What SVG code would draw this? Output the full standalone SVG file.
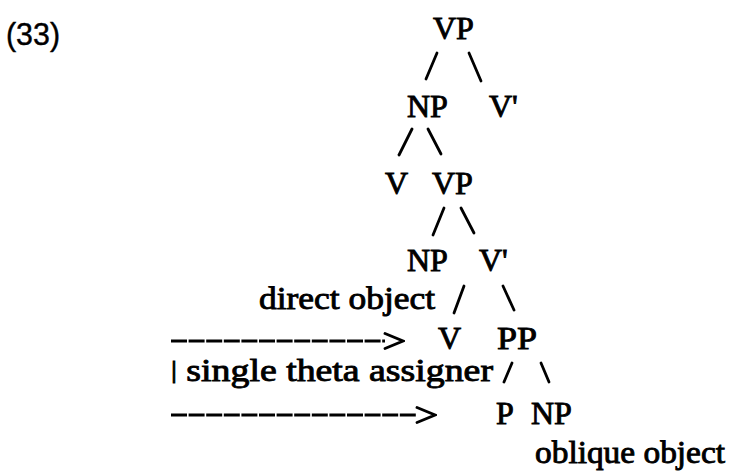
<svg xmlns="http://www.w3.org/2000/svg" width="740" height="471" viewBox="0 0 740 471">
  <style>
    .t { font-family: "Liberation Serif", "Times New Roman", serif; font-size: 32px; fill: #000; stroke: #000; stroke-width: 0.9px; }
    .num { font-family: "Liberation Sans", Arial, sans-serif; font-size: 31px; fill: #000; stroke: #000; stroke-width: 0.4px; }
    .br { stroke: #000; stroke-width: 2.8; stroke-linecap: round; fill: none; }
    .arr { stroke: #000; stroke-width: 3.2; stroke-dasharray: 16 1.6; fill: none; }
  </style>
  <defs>
    <marker id="chev" viewBox="0 0 22 18" refX="2" refY="9" markerWidth="22" markerHeight="18" markerUnits="userSpaceOnUse" orient="auto">
      <path d="M2,1.5 L20,9 L2,16.5" fill="none" stroke="#000" stroke-width="2.8" stroke-linecap="round" stroke-linejoin="miter"/>
    </marker>
  </defs>
  <rect width="740" height="471" fill="#fff"/>

  <g id="label-33"><text class="num" x="6" y="45" textLength="54" lengthAdjust="spacingAndGlyphs">(33)</text></g>

  <g id="node-VP-top"><text class="t" x="433" y="39">VP</text></g>
  <g id="node-NP-spec1"><text class="t" x="407" y="117">NP</text></g>
  <g id="node-Vbar-1"><text class="t" x="489" y="117">V'</text></g>
  <g id="node-V-1"><text class="t" x="385" y="194">V</text></g>
  <g id="node-VP-2"><text class="t" x="432" y="194">VP</text></g>
  <g id="node-NP-2"><text class="t" x="407" y="271">NP</text></g>
  <g id="node-Vbar-2"><text class="t" x="479" y="271">V'</text></g>
  <g id="node-V-2"><text class="t" x="438" y="349">V</text></g>
  <g id="node-PP"><text class="t" x="497" y="349" textLength="40" lengthAdjust="spacingAndGlyphs">PP</text></g>
  <g id="node-P"><text class="t" x="496" y="424">P</text></g>
  <g id="node-NP-3"><text class="t" x="531" y="424">NP</text></g>

  <g id="label-direct-object"><text class="t" x="259" y="309" textLength="176" lengthAdjust="spacingAndGlyphs">direct object</text></g>
  <g id="label-single-theta"><text class="t" x="171" y="381" textLength="322" lengthAdjust="spacingAndGlyphs"><tspan font-size="25" dy="-3">|</tspan><tspan dy="3"> single theta assigner</tspan></text></g>
  <g id="label-oblique-object"><text class="t" x="535" y="463" textLength="190" lengthAdjust="spacingAndGlyphs">oblique object</text></g>

  <g id="connectors">
    <line class="br" x1="426" y1="79" x2="437" y2="53"/>
    <line class="br" x1="469" y1="53" x2="481" y2="81"/>
    <line class="br" x1="399" y1="155" x2="412" y2="129"/>
    <line class="br" x1="428" y1="129" x2="441" y2="154"/>
    <line class="br" x1="433" y1="235" x2="444" y2="208"/>
    <line class="br" x1="461" y1="208" x2="474" y2="233"/>
    <line class="br" x1="454" y1="313" x2="464" y2="286"/>
    <line class="br" x1="503" y1="286" x2="514" y2="310"/>
    <line class="br" x1="504" y1="382" x2="512" y2="363"/>
    <line class="br" x1="541" y1="363" x2="549" y2="382"/>
    <line class="arr" x1="171" y1="341" x2="385" y2="341" marker-end="url(#chev)"/>
    <line class="arr" x1="171" y1="415" x2="417" y2="415" marker-end="url(#chev)"/>
  </g>
</svg>
